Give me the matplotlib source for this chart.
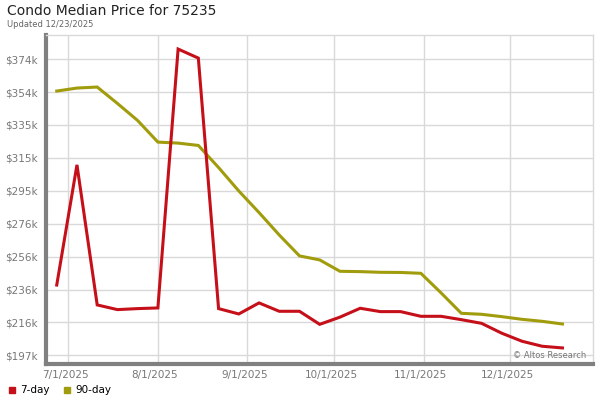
import pandas as pd
import matplotlib.pyplot as plt
import matplotlib.transforms as mtransforms
from matplotlib.lines import Line2D

# weekly sample dates
dates = pd.to_datetime([
    '2025-06-27', '2025-07-04', '2025-07-11', '2025-07-18', '2025-07-25',
    '2025-08-01', '2025-08-08', '2025-08-15', '2025-08-22', '2025-08-29',
    '2025-09-05', '2025-09-12', '2025-09-19', '2025-09-26', '2025-10-03',
    '2025-10-10', '2025-10-17', '2025-10-24', '2025-10-31', '2025-11-07',
    '2025-11-14', '2025-11-21', '2025-11-28', '2025-12-05', '2025-12-12',
    '2025-12-19',
])

# median price in $k
day7 = [239.0, 310.8, 227.1, 224.3, 224.9, 225.3, 380.0, 374.6, 224.9, 221.7,
        228.3, 223.3, 223.3, 215.5, 219.8, 225.1, 223.1, 223.1, 220.3, 220.3,
        218.3, 216.1, 210.2, 205.4, 202.4, 201.4]
day90 = [354.9, 356.7, 357.3, 347.5, 337.3, 324.4, 323.8, 322.4, 309.2, 295.2,
         282.3, 268.9, 256.4, 254.0, 247.2, 247.0, 246.6, 246.5, 246.0, 234.3,
         222.1, 221.5, 220.1, 218.5, 217.3, 215.7]

ytick_vals = [197.0, 216.7, 236.3, 256.0, 275.7, 295.3, 315.0, 334.7, 354.3, 374.0]
ytick_labels = ['$197k', '$216k', '$236k', '$256k', '$276k', '$295k',
                '$315k', '$335k', '$354k', '$374k']
xtick_dates = pd.to_datetime(['2025-07-01', '2025-08-01', '2025-09-01',
                              '2025-10-01', '2025-11-01', '2025-12-01'])
xtick_labels = ['7/1/2025', '8/1/2025', '9/1/2025', '10/1/2025', '11/1/2025', '12/1/2025']

red = '#C5101A'
olive = '#A19C0C'
grid_col = '#D9D9D9'
label_col = '#777777'

fig = plt.figure(figsize=(6, 4), dpi=100)
ax = fig.add_axes([0.0767, 0.09, 0.9117, 0.8225])

ax.plot(dates, day90, color=olive, lw=2.2, solid_joinstyle='miter', zorder=3)
ax.plot(dates, day7, color=red, lw=2.2, solid_joinstyle='miter', zorder=4)

ax.set_xlim(pd.Timestamp('2025-06-23 07:00'), pd.Timestamp('2025-12-29 14:00'))
ax.set_ylim(191.8, 388.4)

ax.set_yticks(ytick_vals)
ax.set_yticklabels(ytick_labels)
ax.set_xticks(xtick_dates)
ax.set_xticklabels(xtick_labels)
ax.tick_params(axis='both', length=0, labelsize=7.5, labelcolor=label_col)
ax.tick_params(axis='y', pad=6)
ax.tick_params(axis='x', pad=4)

# x labels sit a little left of their gridlines
shift = mtransforms.ScaledTranslation(-3 / 100, 0, fig.dpi_scale_trans)
for lbl in ax.get_xticklabels():
    lbl.set_transform(lbl.get_transform() + shift)

ax.grid(True, color=grid_col, lw=1.0)
ax.set_axisbelow(True)

for side in ['top', 'right']:
    ax.spines[side].set_color(grid_col)
    ax.spines[side].set_linewidth(1.0)
for side in ['left', 'bottom']:
    ax.spines[side].set_color('#808080')
    ax.spines[side].set_linewidth(3.0)

fig.text(0.012, 0.962, 'Condo Median Price for 75235', fontsize=10, color='#222222')
fig.text(0.012, 0.933, 'Updated 12/23/2025', fontsize=6, color='#666666')

ax.text(0.988, 0.012, '\u00a9 Altos Research', transform=ax.transAxes,
        ha='right', va='bottom', fontsize=6, color='#777777')

handles = [Line2D([], [], color=red, marker='s', ls='', markersize=5),
           Line2D([], [], color=olive, marker='s', ls='', markersize=5)]
fig.legend(handles, ['7-day', '90-day'], loc='lower left', bbox_to_anchor=(-0.005, -0.012),
           ncol=2, frameon=False, fontsize=7.5, handletextpad=0.3, columnspacing=1.2,
           handlelength=1.0)

fig.savefig('out.png', dpi=100)
